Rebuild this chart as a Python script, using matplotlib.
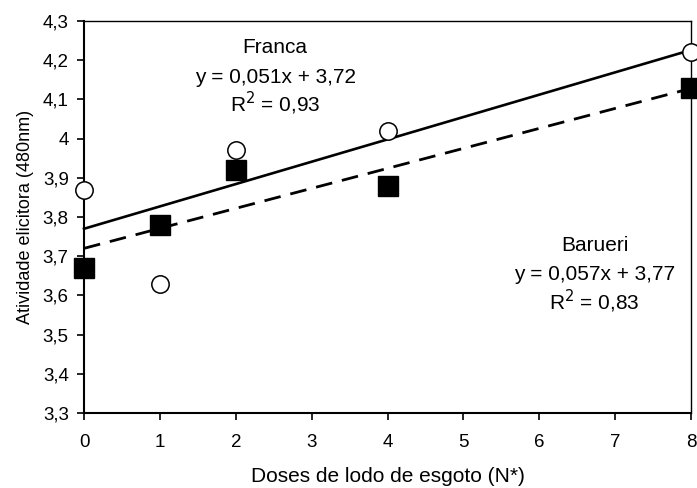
import matplotlib
matplotlib.use('Agg')
import matplotlib.pyplot as plt
from matplotlib.ticker import FuncFormatter, MultipleLocator
import numpy as np

plt.rcParams['font.family'] = ['Liberation Sans', 'DejaVu Sans']

# doses (eixo x)
doses = [0, 1, 2, 4, 8]
# pontos observados
circulos = [3.87, 3.63, 3.97, 4.02, 4.22]
quadrados = [3.67, 3.78, 3.92, 3.88, 4.13]

# equacoes das retas
eq_nomes = ['Franca', 'Barueri']
eq_a = [0.051, 0.057]
eq_b = [3.72, 3.77]
eq_r2 = [0.93, 0.83]

def virgula(v, pos=None):
    s = ('%.1f' % v).replace('.', ',')
    if s.endswith(',0'):
        s = s[:-2]
    return s

fig = plt.figure(figsize=(6.97, 4.88), dpi=100)
ax = fig.add_axes([84/697, 1-413/488, (691-84)/697, (413-21)/488])

xr = np.array([doses[0], doses[-1]])
# Barueri - linha cheia, Franca - tracejada
ax.plot(xr, eq_a[1]*xr + eq_b[1], 'k-', lw=1.9, clip_on=False)
ax.plot(xr, eq_a[0]*xr + eq_b[0], 'k-', lw=2.0, dashes=(6, 3.6), clip_on=False)

ax.plot(doses, circulos, 'o', ms=12.5, mfc='white', mec='black', mew=1.1,
        ls='none', clip_on=False, zorder=5)
ax.plot(doses, quadrados, 's', ms=13.7, mfc='black', mec='black',
        ls='none', clip_on=False, zorder=5)

ax.set_xlim(0, 8)
ax.set_ylim(3.3, 4.3)
ax.xaxis.set_major_locator(MultipleLocator(1))
ax.yaxis.set_major_locator(MultipleLocator(0.1))
ax.yaxis.set_major_formatter(FuncFormatter(virgula))
ax.tick_params(direction='out', length=5, width=1.2, labelsize=13.5, pad=6)
ax.tick_params(axis='x', pad=10)

for lado in ['left', 'bottom']:
    ax.spines[lado].set_linewidth(1.5)
for lado in ['top', 'right']:
    ax.spines[lado].set_linewidth(1.0)

ax.set_xlabel('Doses de lodo de esgoto (N*)', fontsize=15, labelpad=12)
ax.set_ylabel('Atividade elicitora (480nm)', fontsize=13, labelpad=6)

# textos das equacoes
pos = [(2.52, 4.232), (6.73, 3.728)]
for i in range(2):
    px, py = pos[i]
    ax.text(px, py, eq_nomes[i], ha='center', va='center', fontsize=15)
    eq = 'y = %s x + %s' % (('%.3f' % eq_a[i]).replace('.', ','),
                            ('%.2f' % eq_b[i]).replace('.', ','))
    eq = eq.replace(' x', 'x')
    ax.text(px, py - 0.075, eq, ha='center', va='center', fontsize=15)
    ax.text(px, py - 0.143, 'R$^2$ = ' + ('%.2f' % eq_r2[i]).replace('.', ','),
            ha='center', va='center', fontsize=15)

fig.savefig('out.png', dpi=100)
